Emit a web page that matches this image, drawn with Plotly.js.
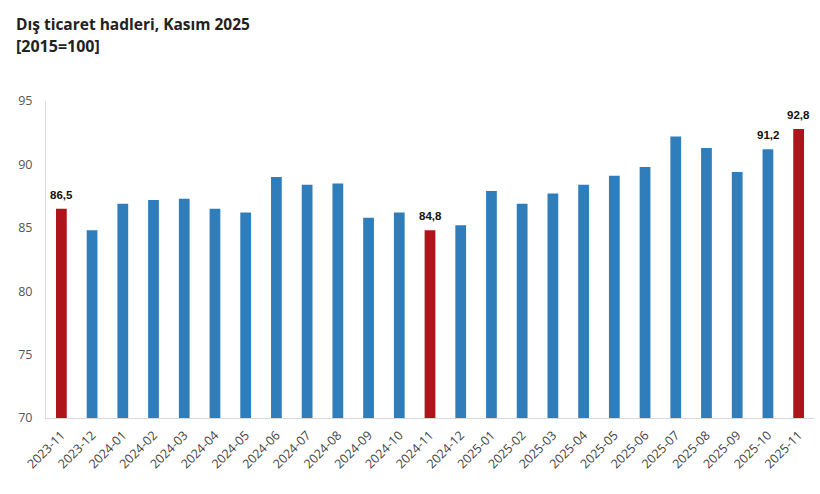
<!DOCTYPE html>
<html>
<head>
<meta charset="utf-8">
<script src="https://cdn.plot.ly/plotly-3.0.1.min.js"></script>
<style>html,body{margin:0;padding:0;background:#fff;}#chart{width:820px;height:494px;}</style>
</head>
<body>
<div id="chart"></div>
<script>
const categories = ['2023-11','2023-12','2024-01','2024-02','2024-03','2024-04','2024-05','2024-06','2024-07','2024-08','2024-09','2024-10','2024-11','2024-12','2025-01','2025-02','2025-03','2025-04','2025-05','2025-06','2025-07','2025-08','2025-09','2025-10','2025-11'];
const values = [86.5,84.8,86.9,87.2,87.3,86.5,86.2,89.0,88.4,88.5,85.8,86.2,84.8,85.2,87.9,86.9,87.7,88.4,89.1,89.8,92.2,91.3,89.4,91.2,92.8];
const highlighted = ['2023-11','2024-11','2025-11'];
const labelled = ['2023-11','2024-11','2025-10','2025-11'];
const titleLines = ['Dış ticaret hadleri, Kasım 2025', '[2015=100]'];

const BLUE = '#2f7dbb', RED = '#ad141b';
const colors = categories.map(c => highlighted.includes(c) ? RED : BLUE);

const PLOT_TOP = 101, PLOT_H = 317;
const titleFont = {family: 'Open Sans, Noto Sans, sans-serif', size: 15.5, color: '#222', weight: 'bold'};

const annotations = categories.map((c, i) => labelled.includes(c) ? {
  x: c, y: values[i], xref: 'x', yref: 'y',
  text: values[i].toFixed(1).replace('.', ','),
  showarrow: false, yanchor: 'bottom', yshift: 6,
  font: {family: 'Liberation Sans, Arial, sans-serif', size: 11.5, color: '#111', weight: 'bold'}
} : null).filter(a => a);

[24, 46].forEach((py, k) => annotations.push({
  xref: 'paper', yref: 'paper', x: (14 - 46) / 768, y: 1 + (PLOT_TOP - py) / PLOT_H,
  xanchor: 'left', yanchor: 'middle', showarrow: false,
  text: '<b>' + titleLines[k] + '</b>', font: k === 0 ? titleFont : Object.assign({}, titleFont, {size: 16})
}));

const data = [{
  type: 'bar', x: categories, y: values,
  marker: {color: colors},
  hoverinfo: 'x+y'
}];

const layout = {
  width: 820, height: 494,
  margin: {l: 46, r: 6, t: 101, b: 76},
  paper_bgcolor: '#fff', plot_bgcolor: '#fff',
  bargap: 0.65,
  showlegend: false,
  xaxis: {
    type: 'category', tickangle: -45,
    showgrid: false, showline: true, linecolor: '#d9d9d9', linewidth: 1,
    ticks: '', ticklabelstandoff: 4,
    tickfont: {family: 'Open Sans, Noto Sans, sans-serif', size: 12.5, color: '#444'},
    fixedrange: true
  },
  yaxis: {
    range: [70, 95], dtick: 5, tick0: 70,
    showgrid: false, zeroline: false, showline: true, linecolor: '#d9d9d9', linewidth: 1,
    ticks: '', ticklabelstandoff: 10,
    tickfont: {family: 'Open Sans, Noto Sans, sans-serif', size: 12.5, color: '#555'},
    fixedrange: true
  },
  annotations: annotations
};

Plotly.newPlot('chart', data, layout, {displayModeBar: false, staticPlot: true});
</script>
</body>
</html>
